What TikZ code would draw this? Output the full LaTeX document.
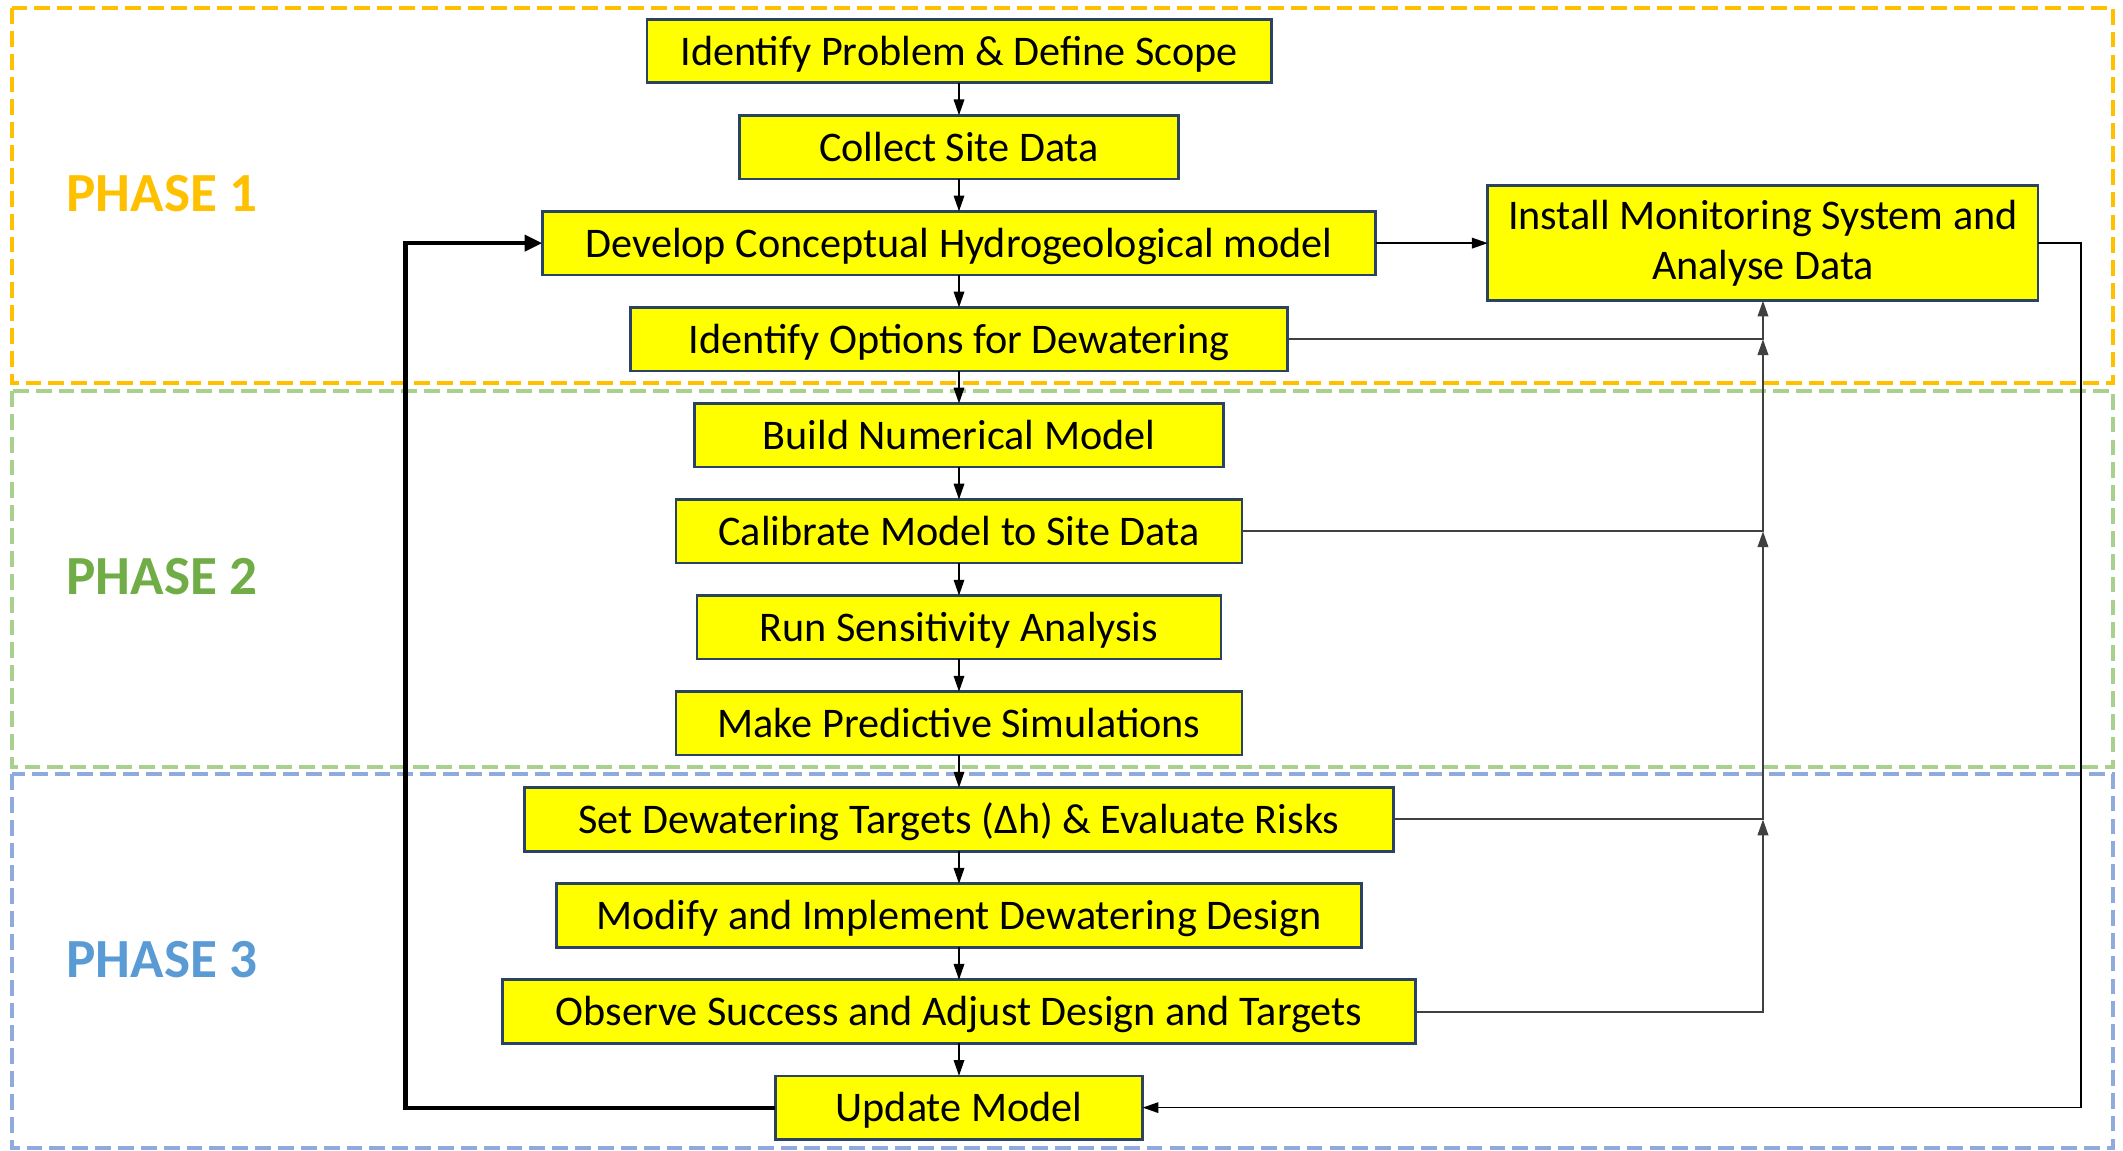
\documentclass[tikz,border=0pt]{standalone}
\usepackage{fontspec}
\setmainfont{Carlito}
\usetikzlibrary{arrows.meta,positioning}

\definecolor{boxfill}{HTML}{FFFF00}
\definecolor{boxline}{HTML}{2B4362}
\definecolor{phaseA}{HTML}{FFC000}
\definecolor{phaseB}{HTML}{A9D18E}
\definecolor{phaseC}{HTML}{8FAADC}
\definecolor{phaseBtxt}{HTML}{70AD47}
\definecolor{phaseCtxt}{HTML}{5B9BD5}

\begin{document}
\begin{tikzpicture}[
  x=0.01cm, y=-0.01cm,
  font=\fontsize{12}{14.4}\selectfont,
  node distance=0.325cm,
  box/.style={draw=boxline,line width=0.75pt,fill=boxfill,minimum height=0.635cm,inner sep=0pt,outer sep=0pt,
    text height=10.5pt,text depth=2.5pt,align=center},
  arrow/.style={-{Triangle[length=4.5pt,width=3pt]},line width=0.45pt},
  feed/.style={arrow,draw=black!75,line width=0.55pt},
  backedge/.style={-{Triangle[length=5pt,width=4.5pt]},line width=1.2pt},
  frame/.style={line width=1pt,dash pattern=on 4.5pt off 2pt},
  phaselabel/.style={font=\fontsize{15.7}{18}\selectfont\bfseries},
]
  \useasboundingbox (0,0) rectangle (2123,1150);

  % phase frames
  \draw[frame,draw=phaseA] (12,8) rectangle (2113,383);
  \draw[frame,draw=phaseB] (12,391) rectangle (2113,767);
  \draw[frame,draw=phaseC] (12,774) rectangle (2113,1148);

  \node[phaselabel,text=phaseA] (ph1) at (162,194) {PHASE 1};
  \node[phaselabel,text=phaseBtxt] (ph2) at (162,577) {PHASE 2};
  \node[phaselabel,text=phaseCtxt] (ph3) at (162,960) {PHASE 3};

  % main column
  \node[box,minimum width=6.24cm] (ident) at (959,51) {Identify Problem \& Define Scope};
  \node[box,minimum width=4.39cm,below=of ident] (collect) {Collect Site Data};
  \node[box,minimum width=8.33cm,below=of collect] (concept) {Develop Conceptual Hydrogeological model};
  \node[box,minimum width=6.57cm,below=of concept] (options) {Identify Options for Dewatering};
  \node[box,minimum width=5.29cm,below=of options] (build) {Build Numerical Model};
  \node[box,minimum width=5.66cm,below=of build] (calib) {Calibrate Model to Site Data};
  \node[box,minimum width=5.24cm,below=of calib] (sens) {Run Sensitivity Analysis};
  \node[box,minimum width=5.66cm,below=of sens] (predict) {Make Predictive Simulations};
  \node[box,minimum width=8.68cm,below=of predict] (targets) {Set Dewatering Targets (Δh) \& Evaluate Risks};
  \node[box,minimum width=8.04cm,below=of targets] (modify) {Modify and Implement Dewatering Design};
  \node[box,minimum width=9.13cm,below=of modify] (observe) {Observe Success and Adjust Design and Targets};
  \node[box,minimum width=3.67cm,below=of observe] (update) {Update Model};

  \node[box,text height={},text depth={},minimum width=5.5cm,minimum height=1.15cm,right=1.12cm of concept] (monitor) {Install Monitoring System and\\Analyse Data};

  \foreach \a/\b in {ident/collect,collect/concept,concept/options,options/build,build/calib,calib/sens,sens/predict,predict/targets,targets/modify,modify/observe,observe/update}
    \draw[arrow] (\a) -- (\b);

  \draw[arrow] (concept) -- (monitor);

  % monitoring feedback
  \draw[feed] (options.east) -| (monitor.south);
  \draw[feed] (calib.east) -| (monitor.south |- options.east);
  \draw[feed] (targets.east) -| (monitor.south |- calib.east);
  \draw[feed] (observe.east) -| (monitor.south |- targets.east);
  \draw[arrow] (monitor.east) -- ++(43,0) |- (update.east);

  \draw[backedge] (update.west) -- ++(-370,0) |- (concept.west);
\end{tikzpicture}
\end{document}
